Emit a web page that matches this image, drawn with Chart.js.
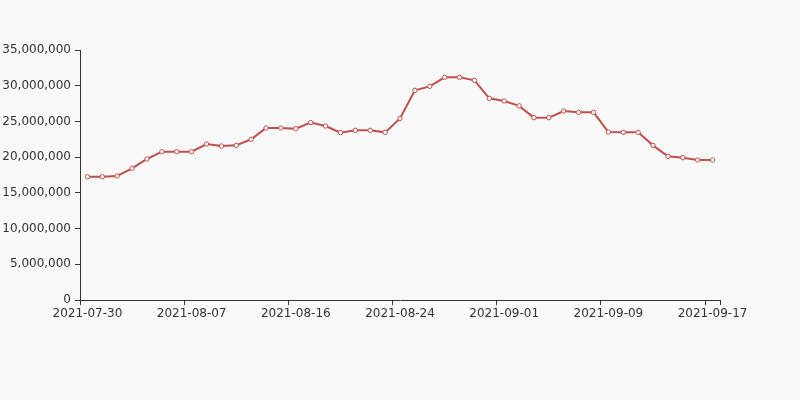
<!DOCTYPE html>
<html>
<head>
<meta charset="utf-8">
<script src="https://cdn.jsdelivr.net/npm/chart.js@4/dist/chart.umd.min.js"></script>
<style>
  html, body { margin: 0; padding: 0; background: #f9f9f9; }
  #wrap { width: 800px; height: 400px; }
</style>
</head>
<body>
<div id="wrap"><canvas id="chart" width="800" height="400"></canvas></div>
<script>
// trading dates (Sundays skipped)
const dates = [
  '2021-07-30', '2021-07-31', '2021-08-02', '2021-08-03', '2021-08-04', '2021-08-05', '2021-08-06',
  '2021-08-07', '2021-08-09', '2021-08-10', '2021-08-11', '2021-08-12', '2021-08-13', '2021-08-14',
  '2021-08-16', '2021-08-17', '2021-08-18', '2021-08-19', '2021-08-20', '2021-08-21', '2021-08-23',
  '2021-08-24', '2021-08-25', '2021-08-26', '2021-08-27', '2021-08-28', '2021-08-30', '2021-08-31',
  '2021-09-01', '2021-09-02', '2021-09-03', '2021-09-04', '2021-09-06', '2021-09-07', '2021-09-08',
  '2021-09-09', '2021-09-10', '2021-09-11', '2021-09-13', '2021-09-14', '2021-09-15', '2021-09-16',
  '2021-09-17'
];

const values = [
  17260000, 17260000, 17360000, 18440000, 19740000, 20760000, 20760000,
  20760000, 21840000, 21560000, 21650000, 22500000, 24080000, 24080000,
  23990000, 24830000, 24360000, 23430000, 23750000, 23750000, 23470000,
  25430000, 29350000, 29910000, 31170000, 31170000, 30750000, 28230000,
  27860000, 27180000, 25530000, 25530000, 26460000, 26270000, 26270000,
  23520000, 23470000, 23470000, 21650000, 20110000, 19930000, 19600000,
  19600000
];

const yMax = 35000000;
const yStep = 5000000;
const labelEvery = 7;

const axisColor = '#333';
const lineColor = '#c0504d';

const bgPlugin = {
  id: 'bg',
  beforeDraw(chart) {
    const ctx = chart.ctx;
    ctx.save();
    ctx.fillStyle = '#f9f9f9';
    ctx.fillRect(0, 0, chart.width, chart.height);
    ctx.restore();
  }
};

Chart.defaults.font.family = '"DejaVu Sans", sans-serif';
Chart.defaults.font.size = 12;
Chart.defaults.color = axisColor;

new Chart(document.getElementById('chart').getContext('2d'), {
  type: 'line',
  data: {
    labels: dates,
    datasets: [{
      data: values,
      borderColor: lineColor,
      borderWidth: 2,
      backgroundColor: '#ffffff',
      pointBackgroundColor: '#ffffff',
      pointBorderColor: lineColor,
      pointBorderWidth: 1,
      pointRadius: 2.2,
      tension: 0,
      fill: false
    }]
  },
  options: {
    responsive: false,
    animation: false,
    layout: { padding: { top: 50, right: 80, left: 0, bottom: 0 } },
    plugins: {
      legend: { display: false },
      tooltip: { enabled: false }
    },
    scales: {
      x: {
        type: 'category',
        offset: true,
        afterFit(scale) { scale.height = 100; },
        border: { display: true, color: axisColor, width: 1 },
        grid: {
          offset: true,
          drawOnChartArea: false,
          drawTicks: true,
          tickLength: 5,
          color: axisColor,
          tickColor: ctx => (ctx.index === undefined || ctx.index % labelEvery === 0) ? axisColor : 'rgba(0,0,0,0)'
        },
        ticks: {
          autoSkip: false,
          maxRotation: 0,
          padding: 2,
          callback: (value, i) => i % labelEvery === 0 ? dates[i] : ''
        }
      },
      y: {
        min: 0,
        max: yMax,
        afterFit(scale) { scale.width = 80; },
        border: { display: true, color: axisColor, width: 1 },
        grid: {
          drawOnChartArea: false,
          drawTicks: true,
          tickLength: 5,
          tickColor: axisColor
        },
        ticks: {
          stepSize: yStep,
          padding: 4,
          callback: v => v.toLocaleString('en-US')
        }
      }
    }
  },
  plugins: [bgPlugin]
});
</script>
</body>
</html>
